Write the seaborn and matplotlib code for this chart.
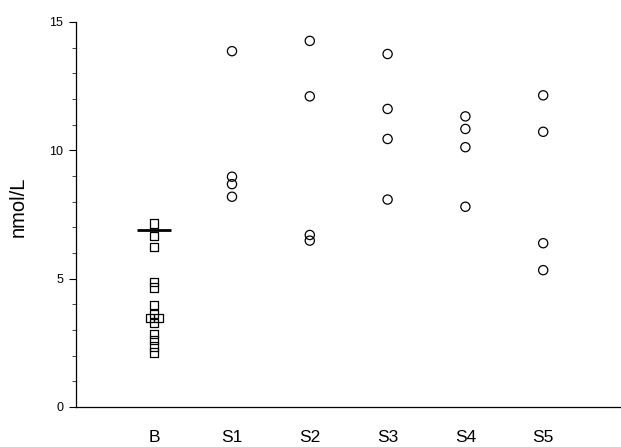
import numpy as np
import pandas as pd
import seaborn as sns
import matplotlib.pyplot as plt
from matplotlib.ticker import MultipleLocator

# ==========================================
# DATOS
# ==========================================
groups = ["B", "S1", "S2", "S3", "S4", "S5"]

b_values = [7.15, 6.66, 6.24, 4.87, 4.65, 3.97, 3.62, 3.47, 3.47, 3.27,
            2.85, 2.60, 2.35, 2.12]
s1_values = [13.86, 8.97, 8.68, 8.19]
s2_values = [14.26, 12.10, 6.70, 6.48]
s3_values = [13.75, 11.61, 10.44, 8.08]
s4_values = [11.32, 10.83, 10.12, 7.80]
s5_values = [12.14, 10.72, 6.38, 5.33]

b_cutoff = 6.90

series = [b_values, s1_values, s2_values, s3_values, s4_values, s5_values]

# tabla larga; los valores repetidos se separan un poco en horizontal
rows = []
for i, (g, vals) in enumerate(zip(groups, series)):
    counts = pd.Series(vals).value_counts()
    seen = {}
    for v in vals:
        n = counts[v]
        k = seen.get(v, 0)
        seen[v] = k + 1
        off = (k - (n - 1) / 2) * 0.115
        rows.append({"grupo": g, "x": i + off, "valor": v,
                     "tipo": "basal" if g == "B" else "estimulo"})
df = pd.DataFrame(rows)

# ==========================================
# ESTILO
# ==========================================
sns.set_theme(style="white")
plt.rcParams['font.family'] = ['Liberation Sans', 'DejaVu Sans']

fig = plt.figure(figsize=(6.21, 4.47), dpi=100)
ax = fig.add_axes([0.123, 0.0895, 0.877, 0.8615])

basal = df[df["tipo"] == "basal"]
estim = df[df["tipo"] == "estimulo"]

sns.scatterplot(data=basal, x="x", y="valor", marker="s", s=36,
                facecolor="none", edgecolor="black", linewidth=0.9, ax=ax)
sns.scatterplot(data=estim, x="x", y="valor", marker="o", s=44,
                facecolor="none", edgecolor="black", linewidth=0.9, ax=ax)

# línea de corte del grupo basal
ax.hlines(b_cutoff, -0.22, 0.22, color="black", linewidth=2)

ax.set_xlim(-1, 6)
ax.set_ylim(0, 15)
ax.set_xticks(range(len(groups)))
ax.set_xticklabels(groups, fontsize=12.5)
ax.set_yticks([0, 5, 10, 15])
ax.set_yticklabels(["0", "5", "10", "15"], fontsize=9)
ax.yaxis.set_minor_locator(MultipleLocator(1))

ax.tick_params(axis="x", length=0, pad=16.5, colors="black")
ax.tick_params(axis="y", which="major", direction="out", length=5, width=0.8,
               left=True, pad=4.5, colors="black")
ax.tick_params(axis="y", which="minor", direction="out", length=3, width=0.6,
               left=True)

sns.despine(ax=ax, top=True, right=True)
for side in ["left", "bottom"]:
    ax.spines[side].set_color("black")
    ax.spines[side].set_linewidth(0.9)

ax.set_xlabel("")
ax.set_ylabel("nmol/L", fontsize=14.5, color="black")
ax.yaxis.set_label_coords(-0.09, 0.52)
ax.grid(False)

fig.savefig("out.png", dpi=100)
